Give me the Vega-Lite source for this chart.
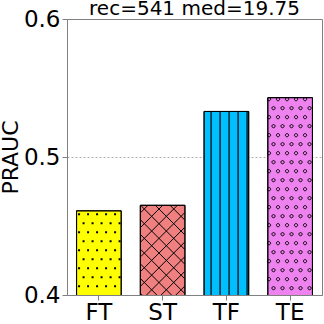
{
  "$schema": "https://vega.github.io/schema/vega-lite/v6.json",
  "autosize": {"type": "none"},
  "padding": {"left": 67, "top": 19, "right": 2, "bottom": 29},
  "width": 255,
  "height": 276,
  "background": "white",
  "title": {"text": "rec=541 med=19.75", "fontSize": 20, "font": "DejaVu Sans", "fontWeight": "normal", "color": "black", "offset": 0, "dy": 27, "baseline": "alphabetic", "anchor": "middle"},
  "config": {"view": {"stroke": "#808080", "strokeWidth": 1}},
  "data": {"values": [
    {"model": "FT", "prauc": 0.461},
    {"model": "ST", "prauc": 0.465},
    {"model": "TF", "prauc": 0.533},
    {"model": "TE", "prauc": 0.543}
  ]},
  "encoding": {
    "x": {"field": "model", "type": "nominal", "sort": null,
      "scale": {"paddingInner": 0.3, "paddingOuter": 0.15},
      "axis": {"title": null, "labelAngle": 0, "labelFontSize": 23, "labelFont": "DejaVu Sans", "labelColor": "black", "tickColor": "#808080", "tickSize": 5, "domainColor": "#808080", "labelPadding": 1}},
    "y": {"field": "prauc", "type": "quantitative",
      "scale": {"domain": [0.4, 0.6], "zero": false, "nice": false},
      "axis": {"values": [0.4, 0.5, 0.6], "format": ".1f", "title": "PRAUC", "titleFontSize": 22, "titleFont": "DejaVu Sans", "titleFontWeight": "normal", "titleColor": "black", "titlePadding": 1, "labelFontSize": 23, "labelFont": "DejaVu Sans", "labelColor": "black", "labelPadding": 2, "tickColor": "#808080", "tickSize": 5, "domainColor": "#808080", "grid": true, "gridDash": [2, 2], "gridColor": "#b0b0b0", "gridOpacity": {"condition": {"test": "datum.value === 0.5", "value": 1}, "value": 0}}}
  },
  "layer": [
    {"mark": {"type": "bar", "stroke": "black", "strokeWidth": 1, "opacity": 1, "clip": true},
     "encoding": {"color": {"field": "model", "type": "nominal", "legend": null,
       "scale": {"domain": ["FT", "ST", "TF", "TE"], "range": ["#ffff00", "#f08080", "#00bfff", "#ee82ee"]}}}},
    {"transform": [{"filter": "datum.model === 'FT'"}],
     "mark": {"type": "point", "clip": true, "size": 4, "filled": true, "fill": "black", "strokeWidth": 0, "opacity": 1,
       "shape": "M-20.8 2.5h2v2h-2zM-11.8 2.5h2v2h-2zM-2.8 2.5h2v2h-2zM6.2 2.5h2v2h-2zM15.2 2.5h2v2h-2zM-16.3 11.5h2v2h-2zM-7.3 11.5h2v2h-2zM1.7 11.5h2v2h-2zM10.7 11.5h2v2h-2zM19.7 11.5h2v2h-2zM-20.8 20.5h2v2h-2zM-11.8 20.5h2v2h-2zM-2.8 20.5h2v2h-2zM6.2 20.5h2v2h-2zM15.2 20.5h2v2h-2zM-16.3 29.5h2v2h-2zM-7.3 29.5h2v2h-2zM1.7 29.5h2v2h-2zM10.7 29.5h2v2h-2zM19.7 29.5h2v2h-2zM-20.8 38.5h2v2h-2zM-11.8 38.5h2v2h-2zM-2.8 38.5h2v2h-2zM6.2 38.5h2v2h-2zM15.2 38.5h2v2h-2zM-16.3 47.5h2v2h-2zM-7.3 47.5h2v2h-2zM1.7 47.5h2v2h-2zM10.7 47.5h2v2h-2zM19.7 47.5h2v2h-2zM-20.8 56.5h2v2h-2zM-11.8 56.5h2v2h-2zM-2.8 56.5h2v2h-2zM6.2 56.5h2v2h-2zM15.2 56.5h2v2h-2zM-16.3 65.5h2v2h-2zM-7.3 65.5h2v2h-2zM1.7 65.5h2v2h-2zM10.7 65.5h2v2h-2zM19.7 65.5h2v2h-2zM-20.8 74.5h2v2h-2zM-11.8 74.5h2v2h-2zM-2.8 74.5h2v2h-2zM6.2 74.5h2v2h-2zM15.2 74.5h2v2h-2z"}},
    {"transform": [{"filter": "datum.model === 'ST'"}],
     "mark": {"type": "point", "clip": true, "size": 4, "filled": false, "stroke": "black", "strokeWidth": 1, "opacity": 1,
       "shape": "M7.4 0L22 14.6M-7.3 0L22 29.3M-22 0L22 44M-22 14.7L22 58.7M-22 29.4L22 73.4M-22 44.1L22 88.1M-22 58.8L19.2 100M-22 73.5L4.5 100M-22 88.2L-10.2 100M-22 7.35L-14.65 0M-22 22.05L0.05 0M-22 36.75L14.75 0M-22 51.45L22 7.45M-22 66.15L22 22.15M-22 80.85L22 36.85M-22 95.55L22 51.55M-11.75 100L22 66.25M2.95 100L22 80.95M17.65 100L22 95.65"}},
    {"transform": [{"filter": "datum.model === 'TF'"}],
     "mark": {"type": "point", "clip": true, "size": 4, "filled": false, "stroke": "black", "strokeWidth": 1.2, "opacity": 1,
       "shape": "M-15.3 0V200M-6.3 0V200M2.7 0V200M11.7 0V200M20.7 0V200"}},
    {"transform": [{"filter": "datum.model === 'TE'"}],
     "mark": {"type": "point", "clip": true, "size": 4, "filled": false, "stroke": "black", "strokeWidth": 1, "opacity": 1,
       "shape": "M-22.7 1.5a1.6 1.6 0 1 0 3.2 0a1.6 1.6 0 1 0 -3.2 0m9 0a1.6 1.6 0 1 0 3.2 0a1.6 1.6 0 1 0 -3.2 0m9 0a1.6 1.6 0 1 0 3.2 0a1.6 1.6 0 1 0 -3.2 0m9 0a1.6 1.6 0 1 0 3.2 0a1.6 1.6 0 1 0 -3.2 0m9 0a1.6 1.6 0 1 0 3.2 0a1.6 1.6 0 1 0 -3.2 0M-18.2 10.5a1.6 1.6 0 1 0 3.2 0a1.6 1.6 0 1 0 -3.2 0m9 0a1.6 1.6 0 1 0 3.2 0a1.6 1.6 0 1 0 -3.2 0m9 0a1.6 1.6 0 1 0 3.2 0a1.6 1.6 0 1 0 -3.2 0m9 0a1.6 1.6 0 1 0 3.2 0a1.6 1.6 0 1 0 -3.2 0m9 0a1.6 1.6 0 1 0 3.2 0a1.6 1.6 0 1 0 -3.2 0M-22.7 19.5a1.6 1.6 0 1 0 3.2 0a1.6 1.6 0 1 0 -3.2 0m9 0a1.6 1.6 0 1 0 3.2 0a1.6 1.6 0 1 0 -3.2 0m9 0a1.6 1.6 0 1 0 3.2 0a1.6 1.6 0 1 0 -3.2 0m9 0a1.6 1.6 0 1 0 3.2 0a1.6 1.6 0 1 0 -3.2 0m9 0a1.6 1.6 0 1 0 3.2 0a1.6 1.6 0 1 0 -3.2 0M-18.2 28.5a1.6 1.6 0 1 0 3.2 0a1.6 1.6 0 1 0 -3.2 0m9 0a1.6 1.6 0 1 0 3.2 0a1.6 1.6 0 1 0 -3.2 0m9 0a1.6 1.6 0 1 0 3.2 0a1.6 1.6 0 1 0 -3.2 0m9 0a1.6 1.6 0 1 0 3.2 0a1.6 1.6 0 1 0 -3.2 0m9 0a1.6 1.6 0 1 0 3.2 0a1.6 1.6 0 1 0 -3.2 0M-22.7 37.5a1.6 1.6 0 1 0 3.2 0a1.6 1.6 0 1 0 -3.2 0m9 0a1.6 1.6 0 1 0 3.2 0a1.6 1.6 0 1 0 -3.2 0m9 0a1.6 1.6 0 1 0 3.2 0a1.6 1.6 0 1 0 -3.2 0m9 0a1.6 1.6 0 1 0 3.2 0a1.6 1.6 0 1 0 -3.2 0m9 0a1.6 1.6 0 1 0 3.2 0a1.6 1.6 0 1 0 -3.2 0M-18.2 46.5a1.6 1.6 0 1 0 3.2 0a1.6 1.6 0 1 0 -3.2 0m9 0a1.6 1.6 0 1 0 3.2 0a1.6 1.6 0 1 0 -3.2 0m9 0a1.6 1.6 0 1 0 3.2 0a1.6 1.6 0 1 0 -3.2 0m9 0a1.6 1.6 0 1 0 3.2 0a1.6 1.6 0 1 0 -3.2 0m9 0a1.6 1.6 0 1 0 3.2 0a1.6 1.6 0 1 0 -3.2 0M-22.7 55.5a1.6 1.6 0 1 0 3.2 0a1.6 1.6 0 1 0 -3.2 0m9 0a1.6 1.6 0 1 0 3.2 0a1.6 1.6 0 1 0 -3.2 0m9 0a1.6 1.6 0 1 0 3.2 0a1.6 1.6 0 1 0 -3.2 0m9 0a1.6 1.6 0 1 0 3.2 0a1.6 1.6 0 1 0 -3.2 0m9 0a1.6 1.6 0 1 0 3.2 0a1.6 1.6 0 1 0 -3.2 0M-18.2 64.5a1.6 1.6 0 1 0 3.2 0a1.6 1.6 0 1 0 -3.2 0m9 0a1.6 1.6 0 1 0 3.2 0a1.6 1.6 0 1 0 -3.2 0m9 0a1.6 1.6 0 1 0 3.2 0a1.6 1.6 0 1 0 -3.2 0m9 0a1.6 1.6 0 1 0 3.2 0a1.6 1.6 0 1 0 -3.2 0m9 0a1.6 1.6 0 1 0 3.2 0a1.6 1.6 0 1 0 -3.2 0M-22.7 73.5a1.6 1.6 0 1 0 3.2 0a1.6 1.6 0 1 0 -3.2 0m9 0a1.6 1.6 0 1 0 3.2 0a1.6 1.6 0 1 0 -3.2 0m9 0a1.6 1.6 0 1 0 3.2 0a1.6 1.6 0 1 0 -3.2 0m9 0a1.6 1.6 0 1 0 3.2 0a1.6 1.6 0 1 0 -3.2 0m9 0a1.6 1.6 0 1 0 3.2 0a1.6 1.6 0 1 0 -3.2 0M-18.2 82.5a1.6 1.6 0 1 0 3.2 0a1.6 1.6 0 1 0 -3.2 0m9 0a1.6 1.6 0 1 0 3.2 0a1.6 1.6 0 1 0 -3.2 0m9 0a1.6 1.6 0 1 0 3.2 0a1.6 1.6 0 1 0 -3.2 0m9 0a1.6 1.6 0 1 0 3.2 0a1.6 1.6 0 1 0 -3.2 0m9 0a1.6 1.6 0 1 0 3.2 0a1.6 1.6 0 1 0 -3.2 0M-22.7 91.5a1.6 1.6 0 1 0 3.2 0a1.6 1.6 0 1 0 -3.2 0m9 0a1.6 1.6 0 1 0 3.2 0a1.6 1.6 0 1 0 -3.2 0m9 0a1.6 1.6 0 1 0 3.2 0a1.6 1.6 0 1 0 -3.2 0m9 0a1.6 1.6 0 1 0 3.2 0a1.6 1.6 0 1 0 -3.2 0m9 0a1.6 1.6 0 1 0 3.2 0a1.6 1.6 0 1 0 -3.2 0M-18.2 100.5a1.6 1.6 0 1 0 3.2 0a1.6 1.6 0 1 0 -3.2 0m9 0a1.6 1.6 0 1 0 3.2 0a1.6 1.6 0 1 0 -3.2 0m9 0a1.6 1.6 0 1 0 3.2 0a1.6 1.6 0 1 0 -3.2 0m9 0a1.6 1.6 0 1 0 3.2 0a1.6 1.6 0 1 0 -3.2 0m9 0a1.6 1.6 0 1 0 3.2 0a1.6 1.6 0 1 0 -3.2 0M-22.7 109.5a1.6 1.6 0 1 0 3.2 0a1.6 1.6 0 1 0 -3.2 0m9 0a1.6 1.6 0 1 0 3.2 0a1.6 1.6 0 1 0 -3.2 0m9 0a1.6 1.6 0 1 0 3.2 0a1.6 1.6 0 1 0 -3.2 0m9 0a1.6 1.6 0 1 0 3.2 0a1.6 1.6 0 1 0 -3.2 0m9 0a1.6 1.6 0 1 0 3.2 0a1.6 1.6 0 1 0 -3.2 0M-18.2 118.5a1.6 1.6 0 1 0 3.2 0a1.6 1.6 0 1 0 -3.2 0m9 0a1.6 1.6 0 1 0 3.2 0a1.6 1.6 0 1 0 -3.2 0m9 0a1.6 1.6 0 1 0 3.2 0a1.6 1.6 0 1 0 -3.2 0m9 0a1.6 1.6 0 1 0 3.2 0a1.6 1.6 0 1 0 -3.2 0m9 0a1.6 1.6 0 1 0 3.2 0a1.6 1.6 0 1 0 -3.2 0M-22.7 127.5a1.6 1.6 0 1 0 3.2 0a1.6 1.6 0 1 0 -3.2 0m9 0a1.6 1.6 0 1 0 3.2 0a1.6 1.6 0 1 0 -3.2 0m9 0a1.6 1.6 0 1 0 3.2 0a1.6 1.6 0 1 0 -3.2 0m9 0a1.6 1.6 0 1 0 3.2 0a1.6 1.6 0 1 0 -3.2 0m9 0a1.6 1.6 0 1 0 3.2 0a1.6 1.6 0 1 0 -3.2 0M-18.2 136.5a1.6 1.6 0 1 0 3.2 0a1.6 1.6 0 1 0 -3.2 0m9 0a1.6 1.6 0 1 0 3.2 0a1.6 1.6 0 1 0 -3.2 0m9 0a1.6 1.6 0 1 0 3.2 0a1.6 1.6 0 1 0 -3.2 0m9 0a1.6 1.6 0 1 0 3.2 0a1.6 1.6 0 1 0 -3.2 0m9 0a1.6 1.6 0 1 0 3.2 0a1.6 1.6 0 1 0 -3.2 0M-22.7 145.5a1.6 1.6 0 1 0 3.2 0a1.6 1.6 0 1 0 -3.2 0m9 0a1.6 1.6 0 1 0 3.2 0a1.6 1.6 0 1 0 -3.2 0m9 0a1.6 1.6 0 1 0 3.2 0a1.6 1.6 0 1 0 -3.2 0m9 0a1.6 1.6 0 1 0 3.2 0a1.6 1.6 0 1 0 -3.2 0m9 0a1.6 1.6 0 1 0 3.2 0a1.6 1.6 0 1 0 -3.2 0M-18.2 154.5a1.6 1.6 0 1 0 3.2 0a1.6 1.6 0 1 0 -3.2 0m9 0a1.6 1.6 0 1 0 3.2 0a1.6 1.6 0 1 0 -3.2 0m9 0a1.6 1.6 0 1 0 3.2 0a1.6 1.6 0 1 0 -3.2 0m9 0a1.6 1.6 0 1 0 3.2 0a1.6 1.6 0 1 0 -3.2 0m9 0a1.6 1.6 0 1 0 3.2 0a1.6 1.6 0 1 0 -3.2 0M-22.7 163.5a1.6 1.6 0 1 0 3.2 0a1.6 1.6 0 1 0 -3.2 0m9 0a1.6 1.6 0 1 0 3.2 0a1.6 1.6 0 1 0 -3.2 0m9 0a1.6 1.6 0 1 0 3.2 0a1.6 1.6 0 1 0 -3.2 0m9 0a1.6 1.6 0 1 0 3.2 0a1.6 1.6 0 1 0 -3.2 0m9 0a1.6 1.6 0 1 0 3.2 0a1.6 1.6 0 1 0 -3.2 0M-18.2 172.5a1.6 1.6 0 1 0 3.2 0a1.6 1.6 0 1 0 -3.2 0m9 0a1.6 1.6 0 1 0 3.2 0a1.6 1.6 0 1 0 -3.2 0m9 0a1.6 1.6 0 1 0 3.2 0a1.6 1.6 0 1 0 -3.2 0m9 0a1.6 1.6 0 1 0 3.2 0a1.6 1.6 0 1 0 -3.2 0m9 0a1.6 1.6 0 1 0 3.2 0a1.6 1.6 0 1 0 -3.2 0M-22.7 181.5a1.6 1.6 0 1 0 3.2 0a1.6 1.6 0 1 0 -3.2 0m9 0a1.6 1.6 0 1 0 3.2 0a1.6 1.6 0 1 0 -3.2 0m9 0a1.6 1.6 0 1 0 3.2 0a1.6 1.6 0 1 0 -3.2 0m9 0a1.6 1.6 0 1 0 3.2 0a1.6 1.6 0 1 0 -3.2 0m9 0a1.6 1.6 0 1 0 3.2 0a1.6 1.6 0 1 0 -3.2 0M-18.2 190.5a1.6 1.6 0 1 0 3.2 0a1.6 1.6 0 1 0 -3.2 0m9 0a1.6 1.6 0 1 0 3.2 0a1.6 1.6 0 1 0 -3.2 0m9 0a1.6 1.6 0 1 0 3.2 0a1.6 1.6 0 1 0 -3.2 0m9 0a1.6 1.6 0 1 0 3.2 0a1.6 1.6 0 1 0 -3.2 0m9 0a1.6 1.6 0 1 0 3.2 0a1.6 1.6 0 1 0 -3.2 0"}},
    {"mark": {"type": "bar", "fill": null, "fillOpacity": 0, "stroke": "black", "strokeWidth": 1, "opacity": 1, "clip": true}}
  ]
}
